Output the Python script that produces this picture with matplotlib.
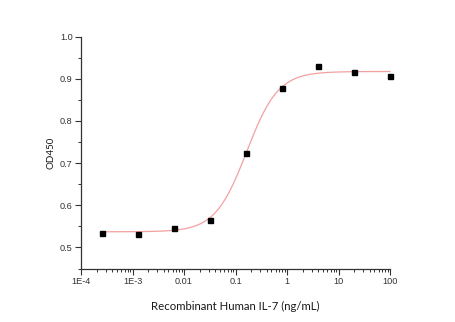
import numpy as np
import matplotlib
matplotlib.use("Agg")
import matplotlib.pyplot as plt
from matplotlib.ticker import LogLocator, MultipleLocator, NullFormatter

# Data
conc = [0.000256, 0.00128, 0.0064, 0.032, 0.16, 0.8, 4, 20, 100]
od450 = [0.533, 0.531, 0.547, 0.566, 0.724, 0.877, 0.931, 0.915, 0.907]

# 4PL fit parameters
fit_bottom = 0.537
fit_top = 0.917
fit_ec50 = 0.165
fit_hill = 1.42

xtick_vals = [1e-4, 1e-3, 1e-2, 1e-1, 1, 10, 100]
xtick_labels = ["1E-4", "1E-3", "0.01", "0.1", "1", "10", "100"]
ytick_vals = [0.5, 0.6, 0.7, 0.8, 0.9, 1.0]

fig = plt.figure(figsize=(4.56, 3.22), dpi=100)
ax = fig.add_axes([81/456, 1-268.5/322, (390-81)/456, (268.5-36.5)/322])

xs = np.logspace(np.log10(min(conc)), np.log10(max(conc)), 300)
ys = fit_bottom + (fit_top - fit_bottom) / (1 + (fit_ec50 / xs) ** fit_hill)
ax.plot(xs, ys, color="#F4A0A0", lw=0.9, zorder=2, clip_on=False)
ax.plot(conc, od450, linestyle="none", marker="s", ms=3.6, color="black", zorder=3, clip_on=False)

ax.set_xscale("log")
ax.set_xlim(1e-4, 100)
ax.set_ylim(0.45, 1.0)
ax.set_xticks(xtick_vals)
ax.set_xticklabels(xtick_labels)
ax.xaxis.set_minor_locator(LogLocator(base=10, subs=np.arange(2, 10), numticks=20))
ax.xaxis.set_minor_formatter(NullFormatter())
ax.set_yticks(ytick_vals)
ax.set_yticklabels([f"{v:.1f}" for v in ytick_vals])
ax.yaxis.set_minor_locator(MultipleLocator(0.05))

for s in ["top", "right"]:
    ax.spines[s].set_visible(False)
for s in ["left", "bottom"]:
    ax.spines[s].set_color("#333333")
    ax.spines[s].set_linewidth(0.9)

ax.tick_params(which="major", direction="out", length=4, width=0.8, color="#333333",
               labelsize=6.6, labelcolor="#333333", pad=2)
ax.tick_params(which="minor", direction="out", length=2, width=0.7, color="#333333")
for lab in ax.get_xticklabels() + ax.get_yticklabels():
    lab.set_fontfamily("Liberation Sans")

ax.set_xlabel("Recombinant Human IL-7 (ng/mL)", fontfamily="Lato", fontsize=8.2, color="#1a1a1a", labelpad=11)
ax.set_ylabel("OD450", fontfamily="Lato", fontsize=7, color="#1a1a1a", labelpad=3)

fig.savefig("out.png", dpi=100)
